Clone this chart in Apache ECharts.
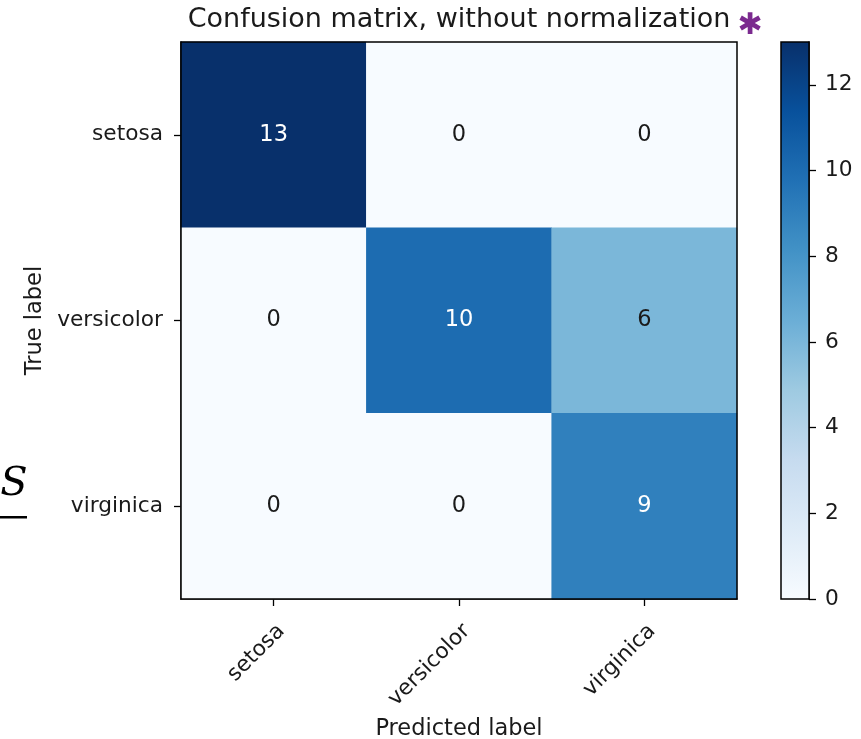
<!DOCTYPE html>
<html>
<head>
<meta charset="utf-8">
<script src="https://cdn.jsdelivr.net/npm/echarts@6/dist/echarts.min.js"></script>
<style>
html,body{margin:0;padding:0;background:#fff;}
#chart{width:861px;height:739px;}
</style>
</head>
<body>
<div id="chart"></div>
<script>
// ---- data ----
const classes = ['setosa', 'versicolor', 'virginica'];
const trueRow0 = [13, 0, 0];
const trueRow1 = [0, 10, 6];
const trueRow2 = [0, 0, 9];
const matrixRows = [trueRow0, trueRow1, trueRow2];
const colorbarMin = 0;
const colorbarMax = 13;
const colorbarTicks = [0, 2, 4, 6, 8, 10, 12];
const titleText = 'Confusion matrix, without normalization';
const xName = 'Predicted label';
const yName = 'True label';

// matplotlib "Blues" colormap stops (low -> high)
const blues = ['#f7fbff', '#deebf7', '#c6dbef', '#9ecae1', '#6baed6', '#4292c6', '#2171b5', '#08519c', '#08306b'];

const FONT = 'DejaVu Sans';
const TXT = '#1a1a1a';
const FS = 22.5;
const TFS = 21.7;
const thresh = colorbarMax / 2;

const heatData = [];
matrixRows.forEach((row, i) => {
  row.forEach((v, j) => {
    heatData.push({
      value: [j, i, v],
      label: { color: v > thresh ? '#ffffff' : TXT }
    });
  });
});

// gradient top (offset 0) = darkest
const n = blues.length;
const gradStops = blues.map((c, k) => ({ offset: k / (n - 1), color: blues[n - 1 - k] }));

const chart = echarts.init(document.getElementById('chart'), null, { renderer: 'canvas' });
chart.setOption({
  backgroundColor: '#ffffff',
  animation: false,
  textStyle: { fontFamily: FONT },
  grid: [
    { left: 181, top: 42, width: 556, height: 557, outerBoundsMode: 'none', containLabel: false, show: true, borderColor: '#000', borderWidth: 1.5, backgroundColor: 'transparent', z: 5 },
    { left: 781, top: 42, width: 28, height: 557, outerBoundsMode: 'none', containLabel: false, show: true, borderColor: '#000', borderWidth: 1.5, backgroundColor: 'transparent', z: 5 }
  ],
  xAxis: [
    {
      gridIndex: 0, type: 'category', data: classes, position: 'bottom',
      name: xName, nameLocation: 'middle', nameGap: 119,
      nameTextStyle: { fontFamily: FONT, fontSize: FS, color: TXT },
      axisLine: { show: true, lineStyle: { color: '#000', width: 1.5 } },
      axisTick: { show: true, alignWithLabel: true, length: 7, lineStyle: { color: '#000', width: 1.3 } },
      axisLabel: { rotate: 45, fontFamily: FONT, fontSize: TFS, color: TXT, margin: 21, verticalAlign: 'top' },
      splitLine: { show: false }, splitArea: { show: false }
    },
    {
      gridIndex: 1, type: 'category', data: [''], show: false
    }
  ],
  yAxis: [
    {
      gridIndex: 0, type: 'category', data: classes, inverse: true,
      name: yName, nameLocation: 'middle', nameGap: 132, nameRotate: 90,
      nameTextStyle: { fontFamily: FONT, fontSize: FS, color: TXT },
      axisLine: { show: true, lineStyle: { color: '#000', width: 1.5 } },
      axisTick: { show: true, alignWithLabel: true, length: 7, lineStyle: { color: '#000', width: 1.3 } },
      axisLabel: { fontFamily: FONT, fontSize: TFS, color: TXT, margin: 18 },
      splitLine: { show: false }, splitArea: { show: false }
    },
    {
      gridIndex: 1, type: 'value', position: 'right',
      min: colorbarMin, max: colorbarMax,
      axisLine: { show: true, lineStyle: { color: '#000', width: 1.5 } },
      axisTick: { show: true, length: 7, customValues: colorbarTicks, lineStyle: { color: '#000', width: 1.3 } },
      axisLabel: { fontFamily: FONT, fontSize: TFS, color: TXT, margin: 16, customValues: colorbarTicks },
      splitLine: { show: false }
    }
  ],
  visualMap: {
    show: false, type: 'continuous', min: colorbarMin, max: colorbarMax,
    dimension: 2, seriesIndex: 0,
    inRange: { color: blues }
  },
  series: [
    {
      type: 'heatmap', xAxisIndex: 0, yAxisIndex: 0,
      data: heatData,
      label: { show: true, fontFamily: FONT, fontSize: FS, formatter: p => String(p.value[2]) },
      itemStyle: { borderWidth: 0 },
      emphasis: { disabled: true }
    },
    {
      type: 'bar', xAxisIndex: 1, yAxisIndex: 1,
      data: [colorbarMax], barWidth: '100%',
      itemStyle: { color: new echarts.graphic.LinearGradient(0, 0, 0, 1, gradStops) },
      silent: true
    }
  ],
  graphic: [
    { type: 'text', x: 459, y: 20, style: { text: titleText, font: '27px "DejaVu Sans"', fill: TXT, textAlign: 'center', textVerticalAlign: 'middle' } },
    { type: 'text', x: 750, y: 26, style: { text: '\u2731', font: 'bold 30px "DejaVu Sans"', fill: '#7b2a8f', textAlign: 'center', textVerticalAlign: 'middle' } },
    { type: 'text', x: 14, y: 485, style: { text: 'S', font: 'italic 40px "DejaVu Serif"', fill: '#000', textAlign: 'center', textVerticalAlign: 'middle' } },
    { type: 'rect', shape: { x: 0, y: 516, width: 27, height: 2.5 }, style: { fill: '#000' } }
  ]
});
</script>
</body>
</html>
